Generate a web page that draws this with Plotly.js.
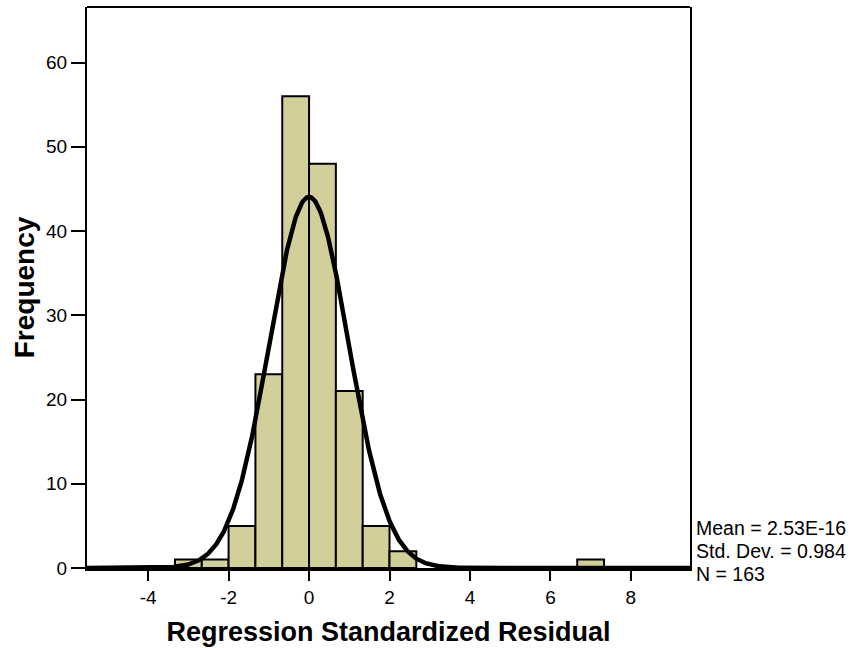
<!DOCTYPE html>
<html>
<head>
<meta charset="utf-8">
<script src="https://cdn.plot.ly/plotly-3.0.1.min.js"></script>
<style>html,body{margin:0;padding:0;background:#fff;}#chart{width:858px;height:648px;}</style>
</head>
<body>
<div id="chart"></div>
<script>
// Histogram bins (centers) and frequencies
const binCenters = [-3.0, -2.333, -1.667, -1.0, -0.333, 0.333, 1.0, 1.667, 2.333, 7.0];
const frequencies = [1, 1, 5, 23, 56, 48, 21, 5, 2, 1];
const binWidth = 0.6667;
// Summary statistics shown on the chart
const statMean = 2.53e-16;
const statSD = 0.984;
const statN = 163;
const statLabels = ["Mean = 2.53E-16", "Std. Dev. = 0.984", "N = 163"];
const xTicks = [-4, -2, 0, 2, 4, 6, 8];
const yTicks = [0, 10, 20, 30, 40, 50, 60];

// Normal curve overlay from the stated mean, SD and N
const curveX = [], curveY = [];
for (let x = -5.6; x <= 9.6; x += 0.02) {
  curveX.push(x);
  const z = (x - statMean) / statSD;
  curveY.push(statN * binWidth / (statSD * Math.sqrt(2 * Math.PI)) * Math.exp(-0.5 * z * z));
}

const font = "Liberation Sans, Arial, sans-serif";
const traces = [
  {
    type: "bar", x: binCenters, y: frequencies, width: binWidth,
    marker: {color: "#D3CF9A", line: {color: "#000", width: 2}},
    hoverinfo: "skip"
  },
  {
    type: "scatter", mode: "lines", x: curveX, y: curveY,
    line: {color: "#000", width: 4.5}, hoverinfo: "skip"
  }
];

const annotations = statLabels.map((t, i) => ({
  text: t, xref: "paper", yref: "paper", x: 1.006, xanchor: "left",
  y: 0.0713 - i * 0.041, yanchor: "middle", showarrow: false,
  font: {family: font, size: 19.5, color: "#000"}
}));

const layout = {
  width: 858, height: 648,
  margin: {l: 87, r: 168, t: 7, b: 80},
  paper_bgcolor: "#fff", plot_bgcolor: "#fff",
  showlegend: false, bargap: 0,
  font: {family: font, color: "#000"},
  xaxis: {
    range: [-5.52, 9.47], tickvals: xTicks, ticktext: xTicks.map(String),
    showgrid: false, zeroline: false, showline: true, linewidth: 3, linecolor: "#000",
    ticks: "outside", ticklen: 10, tickwidth: 2, tickcolor: "#000",
    tickfont: {family: font, size: 19, color: "#000"},
    title: {text: "Regression Standardized Residual", font: {family: font, size: 27, color: "#000", weight: "bold"}, standoff: 16}
  },
  yaxis: {
    range: [0, 66.6], tickvals: yTicks, ticktext: yTicks.map(String),
    showgrid: false, zeroline: false, showline: true, mirror: true, linewidth: 2, linecolor: "#000",
    ticks: "outside", ticklen: 14, tickwidth: 2, tickcolor: "#000",
    tickfont: {family: font, size: 19, color: "#000"},
    title: {text: "Frequency", font: {family: font, size: 28, color: "#000", weight: "bold"}, standoff: 3}
  },
  shapes: [
    {type: "line", xref: "paper", yref: "paper", x0: 0, x1: 1, y0: 1, y1: 1, line: {color: "#000", width: 2}}
  ],
  annotations: annotations
};

Plotly.newPlot("chart", traces, layout, {displayModeBar: false, staticPlot: true});
</script>
</body>
</html>
